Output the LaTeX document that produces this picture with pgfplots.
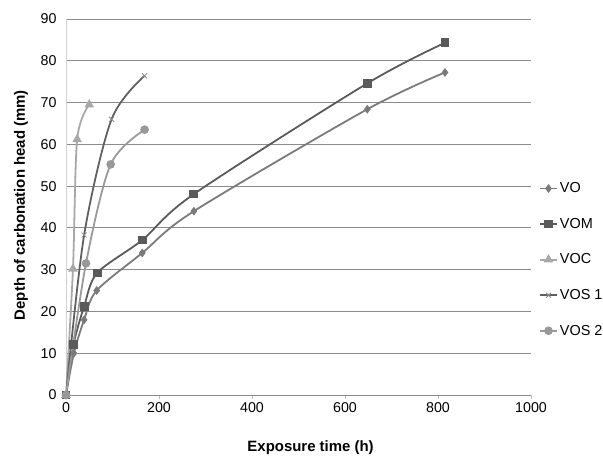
\documentclass[border=0pt]{standalone}
\usepackage{pgfplots}
\pgfplotsset{compat=1.18}
\usepackage{fontspec}
\setmainfont{Liberation Sans}
\definecolor{cVO}{HTML}{7A7A7A}
\definecolor{cVOM}{HTML}{5A5A5A}
\definecolor{cVOC}{HTML}{A8A8A8}
\definecolor{cVOSa}{HTML}{606060}
\definecolor{cVOSb}{HTML}{999999}
\definecolor{grid}{HTML}{8C8C8C}
\begin{document}
\begin{tikzpicture}
\begin{axis}[
  at={(0,0)}, anchor=south west,
  scale only axis, width=465bp, height=376bp,
  xmin=0, xmax=1000, ymin=0, ymax=90,
  xtick={0,200,...,1000}, ytick={0,10,...,90},
  axis x line*=bottom, axis y line*=left,
  x axis line style={draw=grid, line width=0.8pt, -},
  y axis line style={draw=black!18, line width=0.8pt, -},
  ymajorgrids, grid style={draw=grid, line width=0.8pt},
  xtick style={draw=black!25, line width=0.8pt},
  ytick style={draw=none},
  tick align=outside,
  major tick length=4bp,
  xticklabel style={yshift=0bp},
  yticklabel style={xshift=-2bp},
  /pgf/number format/assume math mode=true,
  /pgf/number format/1000 sep={},
  ticklabel style={font=\fontsize{14.3}{16}\selectfont},
  xlabel={Exposure time (h)},
  ylabel={Depth of carbonation head (mm)},
  xlabel style={at={(axis description cs:0.526,-0.141)}, anchor=center, font=\bfseries\fontsize{15}{17}\selectfont},
  ylabel style={at={(axis description cs:-0.097,0.505)}, anchor=center, rotate=0, font=\bfseries\fontsize{15}{17}\selectfont},
  legend style={at={(axis description cs:1.017,0.36)}, anchor=west, draw=none, fill=none,
    font=\fontsize{14.5}{16}\selectfont, row sep=20bp, inner sep=0pt,
    /tikz/every even column/.append style={column sep=0pt}},
  legend cell align=left,
  every axis plot/.append style={line width=1.8pt, smooth, tension=0.5},
]
\addplot[cVO, mark=diamond*, mark size=3pt, mark options={solid}] coordinates {
(0,0) (17,10) (39,18) (66,25) (164,34) (275,44) (648,68.4) (815,77.2)};
\addlegendentry{VO}
\addplot[cVOM, mark=square*, mark size=3.5pt] coordinates {
(0,0) (16,12) (39,21.2) (67,29.2) (164,37.1) (275,48.1) (648,74.6) (815,84.3)};
\addlegendentry{VOM}
\addplot[cVOC, mark=triangle*, mark size=3.8pt] coordinates {
(0,0) (15,30.2) (24,61.2) (50,69.5)};
\addlegendentry{VOC}
\addplot[cVOSa, mark=x, mark size=3.5pt, mark options={draw=black!45, line width=0.8pt}] coordinates {
(0,0) (39,38.3) (98,66) (169,76.4)};
\addlegendentry{VOS 1}
\addplot[cVOSb, mark=*, mark size=3.4pt] coordinates {
(0,0) (43,31.5) (96,55.2) (169,63.5)};
\addlegendentry{VOS 2}
\end{axis}
\pgfresetboundingbox
\path[use as bounding box] (-66bp,-62bp) rectangle (537bp,395bp);
\end{tikzpicture}
\end{document}
